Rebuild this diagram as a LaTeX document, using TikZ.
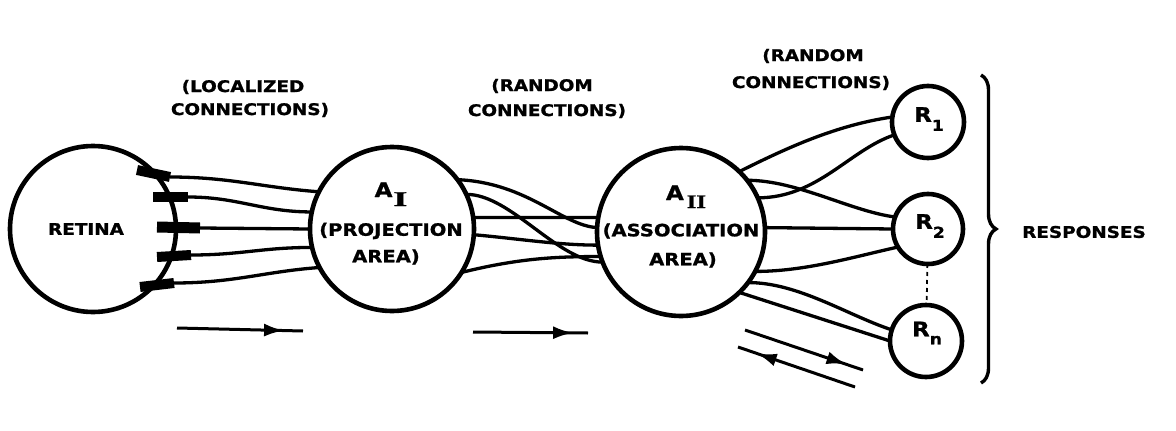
\documentclass[tikz,border=0pt]{standalone}
\usepackage{graphicx}
\usepackage{fontspec}
\setmainfont{DejaVu Sans}
\newfontfamily\lblfont{DejaVu Sans Bold}[FakeStretch=1.15,FakeBold=1.2]
\newfontfamily\serifb{Liberation Serif Bold}[FakeBold=1]
\usetikzlibrary{decorations.pathreplacing,decorations.markings,arrows.meta}
\begin{document}
\begin{tikzpicture}[x=1pt,y=-1pt,
  unit/.style={circle,draw,line width=4.6pt,inner sep=0pt,outer sep=0pt},
  wire/.style={line width=3.3pt},
  bulb/.style={line width=10pt},
  lbl/.style={font=\lblfont\fontsize{16}{18}\selectfont,inner sep=0pt},
  sublbl/.style={font=\lblfont\fontsize{17}{19}\selectfont,inner sep=0pt},
  rlbl/.style={font=\lblfont\fontsize{20}{22}\selectfont,inner sep=0pt},
  fwdarrow/.style={line width=3pt,postaction={decorate},
    decoration={markings,mark=at position #1 with {\arrow{Latex[length=20pt,width=13pt]}}}},
  backarrow/.style={line width=3pt,postaction={decorate},
    decoration={markings,mark=at position #1 with {\arrowreversed{Latex[length=20pt,width=13pt]}}}},
  bracestyle/.style={line width=3.4pt,decorate,decoration={brace,amplitude=15pt}}
]
\useasboundingbox (0,0) rectangle (1176,431);

% units
\node[unit,minimum size=166pt] (ret) at (93,229) {};
\node[unit,minimum size=164pt] (A1) at (392,229) {};
\node[unit,minimum size=168pt] (A2) at (681,232) {};
\node[unit,minimum size=72pt] (R1) at (928,122) {};
\node[unit,minimum size=70pt] (R2) at (928,229) {};
\node[unit,minimum size=72pt] (Rn) at (926,341) {};

% texts
\node[lbl] (tret) at (86,229) {RETINA};
\node[lbl] (tloc1) at (243,87) {(LOCALIZED};
\node[lbl] (tloc2) at (250,110) {CONNECTIONS)};
\node[lbl] (trnd1) at (542,86) {(RANDOM};
\node[lbl] (trnd2) at (547,111) {CONNECTIONS)};
\node[lbl] (trnd3) at (813,56) {(RANDOM};
\node[lbl] (trnd4) at (811,83) {CONNECTIONS)};
\node[lbl] (tresp) at (1084,232) {RESPONSES};

\node[rlbl,anchor=base] (tA1) at (391,197) {A\kern1pt\raisebox{-9pt}{\scalebox{1.7}[1]{\serifb\fontsize{21}{21}\selectfont I}}};
\node[sublbl] (tA1b) at (391,231) {(PROJECTION};
\node[sublbl] (tA1c) at (386,257) {AREA)};
\node[rlbl,anchor=base] (tA2) at (686,200) {A\kern3pt\raisebox{-8pt}{\scalebox{1.3}[1]{\serifb\fontsize{19}{19}\selectfont II}}};
\node[sublbl] (tA2b) at (681,231) {(ASSOCIATION};
\node[sublbl] (tA2c) at (683,260) {AREA)};

\node[rlbl] (tR1) at (929,119) {R\raisebox{-9pt}{\fontsize{15}{15}\selectfont 1}};
\node[rlbl] (tR2) at (930,226) {R\raisebox{-9pt}{\fontsize{15}{15}\selectfont 2}};
\node[rlbl] (tRn) at (927,333) {R\raisebox{-8pt}{\fontsize{15}{15}\selectfont n}};

% retina bulbs
\coordinate (b1s) at (137,170); \coordinate (b1e) at (170,177);
\coordinate (b2s) at (153,197); \coordinate (b2e) at (188,197);
\coordinate (b3s) at (157,227); \coordinate (b3e) at (200,228);
\coordinate (b4s) at (157,257); \coordinate (b4e) at (191,255);
\coordinate (b5s) at (140,287); \coordinate (b5e) at (174,283);
\draw[bulb] (b1s) -- (b1e);
\draw[bulb] (b2s) -- (b2e);
\draw[bulb,line width=11pt] (b3s) -- (b3e);
\draw[bulb] (b4s) -- (b4e);
\draw[bulb] (b5s) -- (b5e);

% localized connections
\draw[wire] (b1e) .. controls +(60,0) and +(-55,-4) .. (A1.153);
\draw[wire] (b2e) .. controls +(50,0) and +(-50,0) .. (A1.168);
\draw[wire] (b3e) -- (A1.180);
\draw[wire] (b4e) .. controls +(50,0) and +(-50,0) .. (A1.193);
\draw[wire] (b5e) .. controls +(60,0) and +(-55,4) .. (A1.208);

% random connections A1 -> A2
\draw[wire] (A1.37) .. controls +(70,3) and +(-35,-2) .. (A2.177);
\draw[wire] (A1.25) .. controls +(45,0) and +(-45,0) .. (A2.201);
\draw[wire] (A1.8) -- (A2.170);
\draw[wire] (A1.-4) .. controls +(45,4) and +(-40,0) .. (A2.189);
\draw[wire] (A1.-32) .. controls +(60,-15) and +(-40,0) .. (A2.197);

% random connections A2 -> R
\draw[wire] (A2.46) .. controls +(50,-25) and +(-55,8) .. (R1.172);
\draw[wire] (A2.24) .. controls +(60,0) and +(-45,15) .. (R1.201);
\draw[wire] (A2.38) .. controls +(50,0) and +(-45,-6) .. (R2.160);
\draw[wire] (A2.3) -- (R2.180);
\draw[wire] (A2.-28) .. controls +(50,0) and +(-45,10) .. (R2.211);
\draw[wire] (A2.-37) .. controls +(50,0) and +(-45,-15) .. (Rn.162);
\draw[wire] (A2.-46) -- (Rn.180);

\draw[line width=1.8pt,dash pattern=on 4pt off 4pt] (R2) -- (Rn);

% brace
\coordinate (bt) at (981,75);
\coordinate (bb) at (981,383);
\draw[bracestyle] (bt) -- (bb);

% direction arrows
\coordinate (a1s) at (177,328); \coordinate (a1e) at (303,331);
\draw[fwdarrow=0.85] (a1s) -- (a1e);
\coordinate (a2s) at (473,332); \coordinate (a2e) at (588,333);
\draw[fwdarrow=0.87] (a2s) -- (a2e);
\coordinate (a3s) at (745,330); \coordinate (a3e) at (863,370);
\draw[fwdarrow=0.86] (a3s) -- (a3e);
\coordinate (a4s) at (738,347); \coordinate (a4e) at (855,387);
\draw[backarrow=0.16] (a4s) -- (a4e);
\end{tikzpicture}
\end{document}
